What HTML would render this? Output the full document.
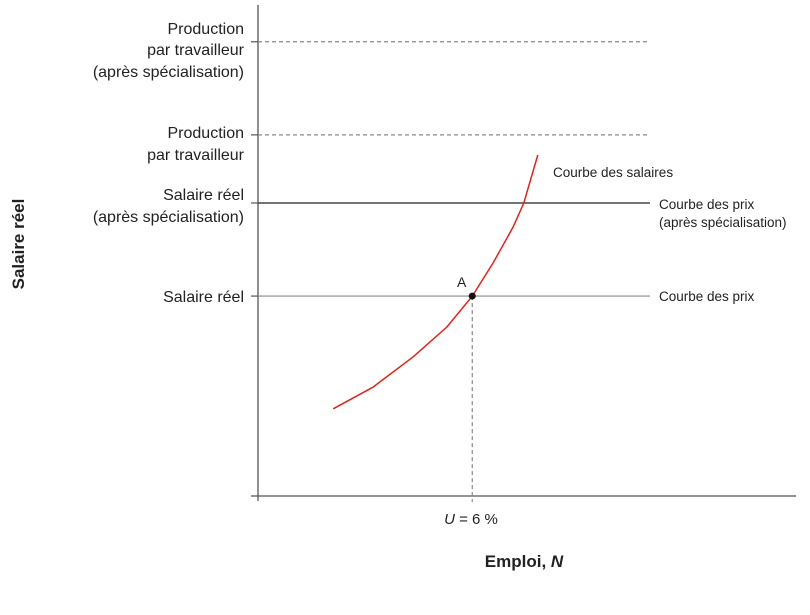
<!DOCTYPE html>
<html><head><meta charset="utf-8"><style>
body{margin:0;background:#fff;}
svg{display:block;font-family:"Liberation Sans",sans-serif;}
</style></head><body>
<svg id="chart" width="810" height="615">
<g id="layer"></g>
</svg>
<script>
const curveX=[14.0,21.4,28.9,35.2,39.9,43.8,47.5,49.5,52.1];
const curveY=[17.8,22.2,28.4,34.5,40.8,47.6,54.9,59.8,69.6];
const levelNames=['production-after','production','wage-after','wage'];
const levelValues=[92.7,73.7,59.8,40.8];
const levelStyles=['dash','dash','black','grey'];
const pointA=[39.9,40.8];
const lineEndX=73.0;
const xs=v=>258+v*5.37, ys=v=>496-v*4.9;
const NS='http://www.w3.org/2000/svg', g=document.getElementById('layer');
function mk(t,a,txt){const e=document.createElementNS(NS,t);for(const k in a)e.setAttribute(k,a[k]);if(txt!=null)e.textContent=txt;g.appendChild(e);return e;}
// axes
let e=mk('line',{x1:258,y1:5,x2:258,y2:501,stroke:'#555','stroke-width':1.3});


e=mk('line',{x1:251,y1:496,x2:796,y2:496,stroke:'#555','stroke-width':1.3});


levelValues.forEach((v,i)=>{
  const st=levelStyles[i];
  const a={x1:258,y1:ys(v),x2:xs(lineEndX),y2:ys(v),stroke:st=='black'?'#222':'#888','stroke-width':st=='black'?1.3:1.2};
  if(st=='dash')a['stroke-dasharray']='4,3';
  let l=mk('line',a);
  
  
  let t=mk('line',{x1:251,y1:ys(v),x2:258,y2:ys(v),stroke:'#555','stroke-width':1.2});
  
  
});
e=mk('line',{x1:xs(pointA[0]),y1:ys(pointA[1]),x2:xs(pointA[0]),y2:502,stroke:'#888','stroke-width':1.2,'stroke-dasharray':'4,3'});


let d=curveX.map((x,i)=>(i?'L':'M')+xs(x).toFixed(1)+','+ys(curveY[i]).toFixed(1)).join(' ');
e=mk('path',{d:d,fill:'none',stroke:'#e2231a','stroke-width':1.5});


e=mk('circle',{cx:xs(pointA[0]),cy:ys(pointA[1]),r:3.5,fill:'#111'});


</script>
<svg width="0" height="0"></svg>
<div style="position:absolute;left:0;top:0;width:810px;height:615px;pointer-events:none">
<svg width="810" height="615" style="font-family:'Liberation Sans',sans-serif">
<g font-size="16" fill="#222" text-anchor="end">
<text x="244" y="34"><tspan x="244" y="34">Production</tspan><tspan x="244" y="55">par travailleur</tspan><tspan x="244" y="77">(après spécialisation)</tspan></text>
<text x="244" y="138"><tspan x="244" y="138">Production</tspan><tspan x="244" y="160">par travailleur</tspan></text>
<text x="244" y="200"><tspan x="244" y="200">Salaire réel</tspan><tspan x="244" y="222">(après spécialisation)</tspan></text>
<text x="244" y="302">Salaire réel</text>
</g>
<g font-size="13.5" fill="#222">
<text x="553" y="177">Courbe des salaires</text>
<text x="659" y="209"><tspan x="659" y="209">Courbe des prix</tspan><tspan x="659" y="227">(après spécialisation)</tspan></text>
<text x="659" y="301">Courbe des prix</text>
<text x="457" y="287" font-size="14">A</text>
</g>
<text x="471" y="524" font-size="15" fill="#222" text-anchor="middle"><tspan font-style="italic">U</tspan> = 6 %</text>
<text x="524" y="567" font-size="17" font-weight="bold" fill="#222" text-anchor="middle">Emploi, <tspan font-style="italic">N</tspan></text>
<text transform="translate(24,244) rotate(-90)" font-size="17" font-weight="bold" fill="#222" text-anchor="middle">Salaire réel</text>
</svg></div>
</body></html>
